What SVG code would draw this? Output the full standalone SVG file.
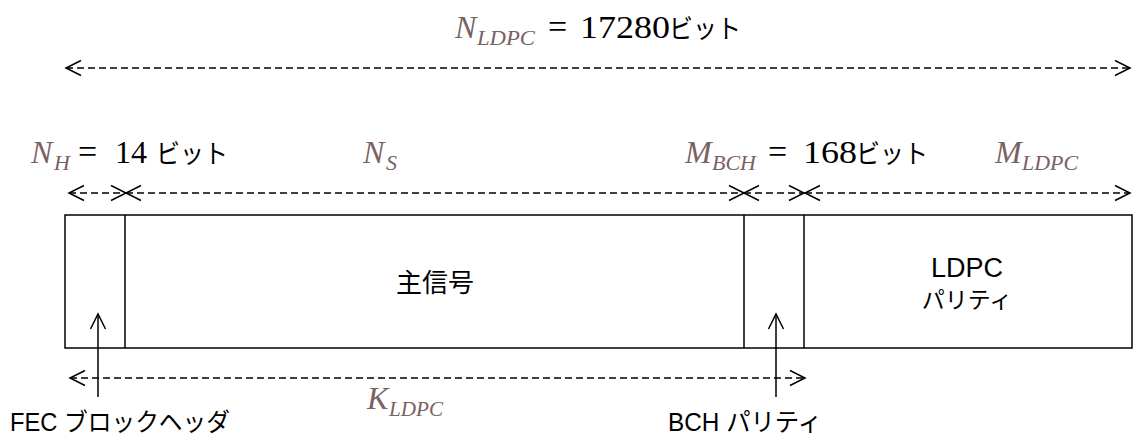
<svg xmlns="http://www.w3.org/2000/svg" width="1142" height="436" viewBox="0 0 1142 436">
<style>
.v{font-family:"Liberation Serif","DejaVu Serif",serif;font-style:italic;fill:#7a6262}
.m{font-family:"Liberation Serif","Noto Sans CJK JP",serif;fill:#000}
.j{font-family:"Noto Sans CJK JP",sans-serif;fill:#000}
.l{font-family:"Liberation Sans","Noto Sans CJK JP",sans-serif;fill:#000}
.d{stroke:#000;stroke-width:1.4;stroke-dasharray:7 4;fill:none}
.s{stroke:#000;stroke-width:1.5;fill:none}
</style>
<defs>
<marker id="ah" markerUnits="userSpaceOnUse" viewBox="-16 -9 18 18" refX="0" refY="0" markerWidth="18" markerHeight="18" orient="auto-start-reverse">
<path d="M-15 -7.5 L0 0 L-15 7.5" fill="none" stroke="#000" stroke-width="1.5" stroke-dasharray="none"/>
</marker>
</defs>
<g id="labels">
<text class="v" x="455" y="38" font-size="32">N</text>
<text class="v" x="477" y="45" font-size="22" textLength="58" lengthAdjust="spacingAndGlyphs">LDPC</text>
<text class="m" x="548" y="38" font-size="34">=</text>
<text class="m" x="580" y="38" font-size="32" textLength="90" lengthAdjust="spacingAndGlyphs">17280</text>
<text class="j" x="669" y="38" font-size="26" textLength="72" lengthAdjust="spacingAndGlyphs">ビット</text>

<text class="v" x="31" y="163" font-size="32">N</text>
<text class="v" x="54" y="170" font-size="22">H</text>
<text class="m" x="78" y="163" font-size="34">=</text>
<text class="m" x="115" y="163" font-size="32">14</text>
<text class="j" x="156" y="163" font-size="26" textLength="72" lengthAdjust="spacingAndGlyphs">ビット</text>

<text class="v" x="363" y="163" font-size="32">N</text>
<text class="v" x="386" y="170" font-size="22">S</text>

<text class="v" x="685" y="163" font-size="32">M</text>
<text class="v" x="712" y="170" font-size="22" textLength="44" lengthAdjust="spacingAndGlyphs">BCH</text>
<text class="m" x="768" y="163" font-size="34">=</text>
<text class="m" x="803" y="163" font-size="32" textLength="54" lengthAdjust="spacingAndGlyphs">168</text>
<text class="j" x="856" y="163" font-size="26" textLength="72" lengthAdjust="spacingAndGlyphs">ビット</text>

<text class="v" x="995" y="163" font-size="32">M</text>
<text class="v" x="1022" y="170" font-size="22" textLength="56" lengthAdjust="spacingAndGlyphs">LDPC</text>

<text class="v" x="367" y="409" font-size="32">K</text>
<text class="v" x="389" y="416" font-size="22" textLength="54" lengthAdjust="spacingAndGlyphs">LDPC</text>
</g>
<g id="frame">
<rect class="s" x="65" y="215" width="1067" height="133"/>
</g>
<g id="fec_header">
<line class="s" x1="125" y1="215" x2="125" y2="348"/>
</g>
<g id="main_signal">
<text class="j" x="435" y="292" font-size="26" text-anchor="middle">主信号</text>
</g>
<g id="bch_parity">
<line class="s" x1="744" y1="215" x2="744" y2="348"/>
<line class="s" x1="804" y1="215" x2="804" y2="348"/>
</g>
<g id="ldpc_parity">
<text class="l" x="967" y="277" font-size="27" text-anchor="middle">LDPC</text>
<text class="j" x="967" y="308" font-size="23" text-anchor="middle">パリティ</text>
</g>
<g id="connectors">
<line class="d" x1="66" y1="68" x2="1130" y2="68" marker-start="url(#ah)" marker-end="url(#ah)"/>
<line class="d" x1="69" y1="193" x2="126" y2="193" marker-start="url(#ah)" marker-end="url(#ah)"/>
<line class="d" x1="126" y1="193" x2="744" y2="193" marker-start="url(#ah)" marker-end="url(#ah)"/>
<line class="d" x1="744" y1="193" x2="804" y2="193" marker-start="url(#ah)" marker-end="url(#ah)"/>
<line class="d" x1="805" y1="193" x2="1130" y2="193" marker-start="url(#ah)" marker-end="url(#ah)"/>
<line class="d" x1="70" y1="378" x2="805" y2="378" marker-start="url(#ah)" marker-end="url(#ah)"/>
<line class="s" x1="98" y1="397" x2="98" y2="314" marker-end="url(#ah)"/>
<line class="s" x1="776" y1="397" x2="776" y2="314" marker-end="url(#ah)"/>
</g>
<g id="callouts">
<text class="l" x="10" y="431" font-size="25" textLength="220" lengthAdjust="spacingAndGlyphs">FEC ブロックヘッダ</text>
<text class="l" x="668" y="431" font-size="25" textLength="154" lengthAdjust="spacingAndGlyphs">BCH パリティ</text>
</g>
</svg>
